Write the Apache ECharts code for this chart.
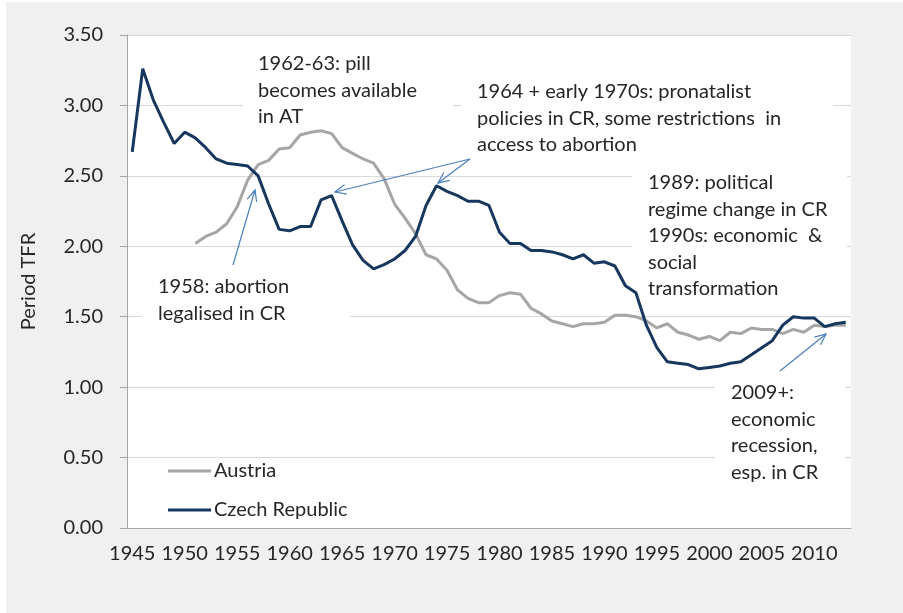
<!DOCTYPE html>
<html>
<head>
<meta charset="utf-8">
<script src="https://cdn.jsdelivr.net/npm/echarts@6/dist/echarts.min.js"></script>
<style>
  html, body { margin: 0; padding: 0; background: #f0f0f0; }
  #main { width: 903px; height: 613px; }
</style>
</head>
<body>
<div id="main"></div>
<script>
var years = [];
for (var y = 1945; y <= 2013; y++) years.push(String(y));

// Period TFR, Czech Republic 1945-2013
var czech = [2.67, 3.26, 3.04, 2.88, 2.73, 2.81, 2.77, 2.70, 2.62, 2.59,
  2.58, 2.57, 2.50, 2.30, 2.12, 2.11, 2.14, 2.14, 2.33, 2.36,
  2.18, 2.01, 1.90, 1.84, 1.87, 1.91, 1.97, 2.07, 2.29, 2.43,
  2.39, 2.36, 2.32, 2.32, 2.29, 2.10, 2.02, 2.02, 1.97, 1.97,
  1.96, 1.94, 1.91, 1.94, 1.88, 1.89, 1.86, 1.72, 1.67, 1.44,
  1.28, 1.18, 1.17, 1.16, 1.13, 1.14, 1.15, 1.17, 1.18, 1.23,
  1.28, 1.33, 1.44, 1.50, 1.49, 1.49, 1.43, 1.45, 1.46];

// Period TFR, Austria (from 1951)
var austria = [null, null, null, null, null, null,
  2.02, 2.07, 2.10, 2.16, 2.28, 2.47, 2.58, 2.61, 2.69,
  2.70, 2.79, 2.81, 2.82, 2.80, 2.70, 2.66, 2.62, 2.59, 2.48,
  2.30, 2.20, 2.09, 1.94, 1.91, 1.83, 1.69, 1.63, 1.60, 1.60,
  1.65, 1.67, 1.66, 1.56, 1.52, 1.47, 1.45, 1.43, 1.45, 1.45,
  1.46, 1.51, 1.51, 1.50, 1.47, 1.42, 1.45, 1.39, 1.37, 1.34,
  1.36, 1.33, 1.39, 1.38, 1.42, 1.41, 1.41, 1.38, 1.41, 1.39,
  1.44, 1.43, 1.44, 1.44];

var notes = [
  { x: 258, y: 64, lines: ['1962-63: pill', 'becomes available', 'in AT'], box: [243, 45, 210, 84] },
  { x: 477, y: 92, lines: ['1964 + early 1970s: pronatalist', 'policies in CR, some restrictions  in', 'access to abortion'], box: [461, 72, 372, 86] },
  { x: 648, y: 183, lines: ['1989: political', 'regime change in CR', '1990s: economic  &', 'social', 'transformation'], box: [632, 165, 215, 136] },
  { x: 158, y: 287, lines: ['1958: abortion', 'legalised in CR'], box: [142, 270, 208, 58] },
  { x: 731, y: 393, lines: ['2009+:', 'economic', 'recession,', 'esp. in CR'], box: [715, 375, 130, 115] }
];

var arrows = [
  [233, 265, 255, 190],
  [470, 159, 335, 192],
  [470, 159, 438, 183],
  [780, 371, 826, 334]
];

var FONT = 'Lato, "Open Sans", sans-serif';
var TXT = '#262626';
var ARROW = '#4a7ebb';

function arrowShape(a) {
  var x1 = a[0], y1 = a[1], x2 = a[2], y2 = a[3];
  var ang = Math.atan2(y2 - y1, x2 - x1);
  var L = 12, w = 0.42;
  return [
    { type: 'line', z: 7, shape: { x1: x1, y1: y1, x2: x2, y2: y2 },
      style: { stroke: ARROW, lineWidth: 1.2 } },
    { type: 'polyline', z: 7, shape: { points: [
        [x2 - L * Math.cos(ang - w), y2 - L * Math.sin(ang - w)],
        [x2, y2],
        [x2 - L * Math.cos(ang + w), y2 - L * Math.sin(ang + w)]
      ] },
      style: { stroke: ARROW, lineWidth: 1.2, fill: null } }
  ];
}

var graphics = [
  { type: 'rect', z: 0, shape: { x: 0, y: 0, width: 6, height: 613 }, style: { fill: '#fff' } },
  { type: 'rect', z: 0, shape: { x: 0, y: 0, width: 903, height: 2 }, style: { fill: '#fff' } }
];
notes.forEach(function (n) {
  graphics.push({ type: 'rect', z: 3, shape: { x: n.box[0], y: n.box[1], width: n.box[2], height: n.box[3] },
    style: { fill: '#fff' } });
  graphics.push({ type: 'text', z: 6, x: n.x, y: n.y - 13.25,
    style: { text: n.lines.join('\n'), font: '20px ' + FONT, fill: TXT, lineHeight: 26.5,
      verticalAlign: 'top', align: 'left' } });
});
arrows.forEach(function (a) { graphics = graphics.concat(arrowShape(a)); });

var chart = echarts.init(document.getElementById('main'));
chart.setOption({
  backgroundColor: '#f0f0f0',
  animation: false,
  textStyle: { fontFamily: FONT },
  grid: { left: 127, right: 52, top: 35, bottom: 85, show: true, backgroundColor: '#fff', borderWidth: 0 },
  legend: {
    orient: 'vertical', left: 163, top: 456, icon: 'rect', itemWidth: 43, itemHeight: 3, itemGap: 19,
    textStyle: { fontSize: 20, color: TXT, fontFamily: FONT, padding: [0, 0, 0, -2] },
    data: ['Austria', 'Czech Republic']
  },
  xAxis: {
    type: 'category', data: years, boundaryGap: true,
    axisLine: { lineStyle: { color: '#a6a6a6', width: 1 } },
    axisTick: { interval: 0, length: 6, lineStyle: { color: '#a6a6a6' } },
    axisLabel: { interval: 4, fontSize: 20, color: TXT, margin: 16 }
  },
  yAxis: {
    type: 'value', min: 0, max: 3.5, interval: 0.5,
    name: 'Period TFR', nameLocation: 'middle', nameGap: 88, nameRotate: 90,
    nameTextStyle: { fontSize: 20, color: TXT },
    axisLine: { show: true, lineStyle: { color: '#a6a6a6' } },
    axisTick: { show: true, length: 7, lineStyle: { color: '#a6a6a6' } },
    axisLabel: { fontSize: 20, color: TXT, margin: 24, formatter: function (v) { return v.toFixed(2); } },
    splitLine: { lineStyle: { color: '#d9d9d9', width: 1 } }
  },
  series: [
    { name: 'Austria', type: 'line', data: austria, symbol: 'none', z: 5,
      lineStyle: { color: '#a6a6a6', width: 3 }, itemStyle: { color: '#a6a6a6' } },
    { name: 'Czech Republic', type: 'line', data: czech, symbol: 'none', z: 5,
      lineStyle: { color: '#17375e', width: 3 }, itemStyle: { color: '#17375e' } }
  ],
  graphic: graphics
});
</script>
</body>
</html>
